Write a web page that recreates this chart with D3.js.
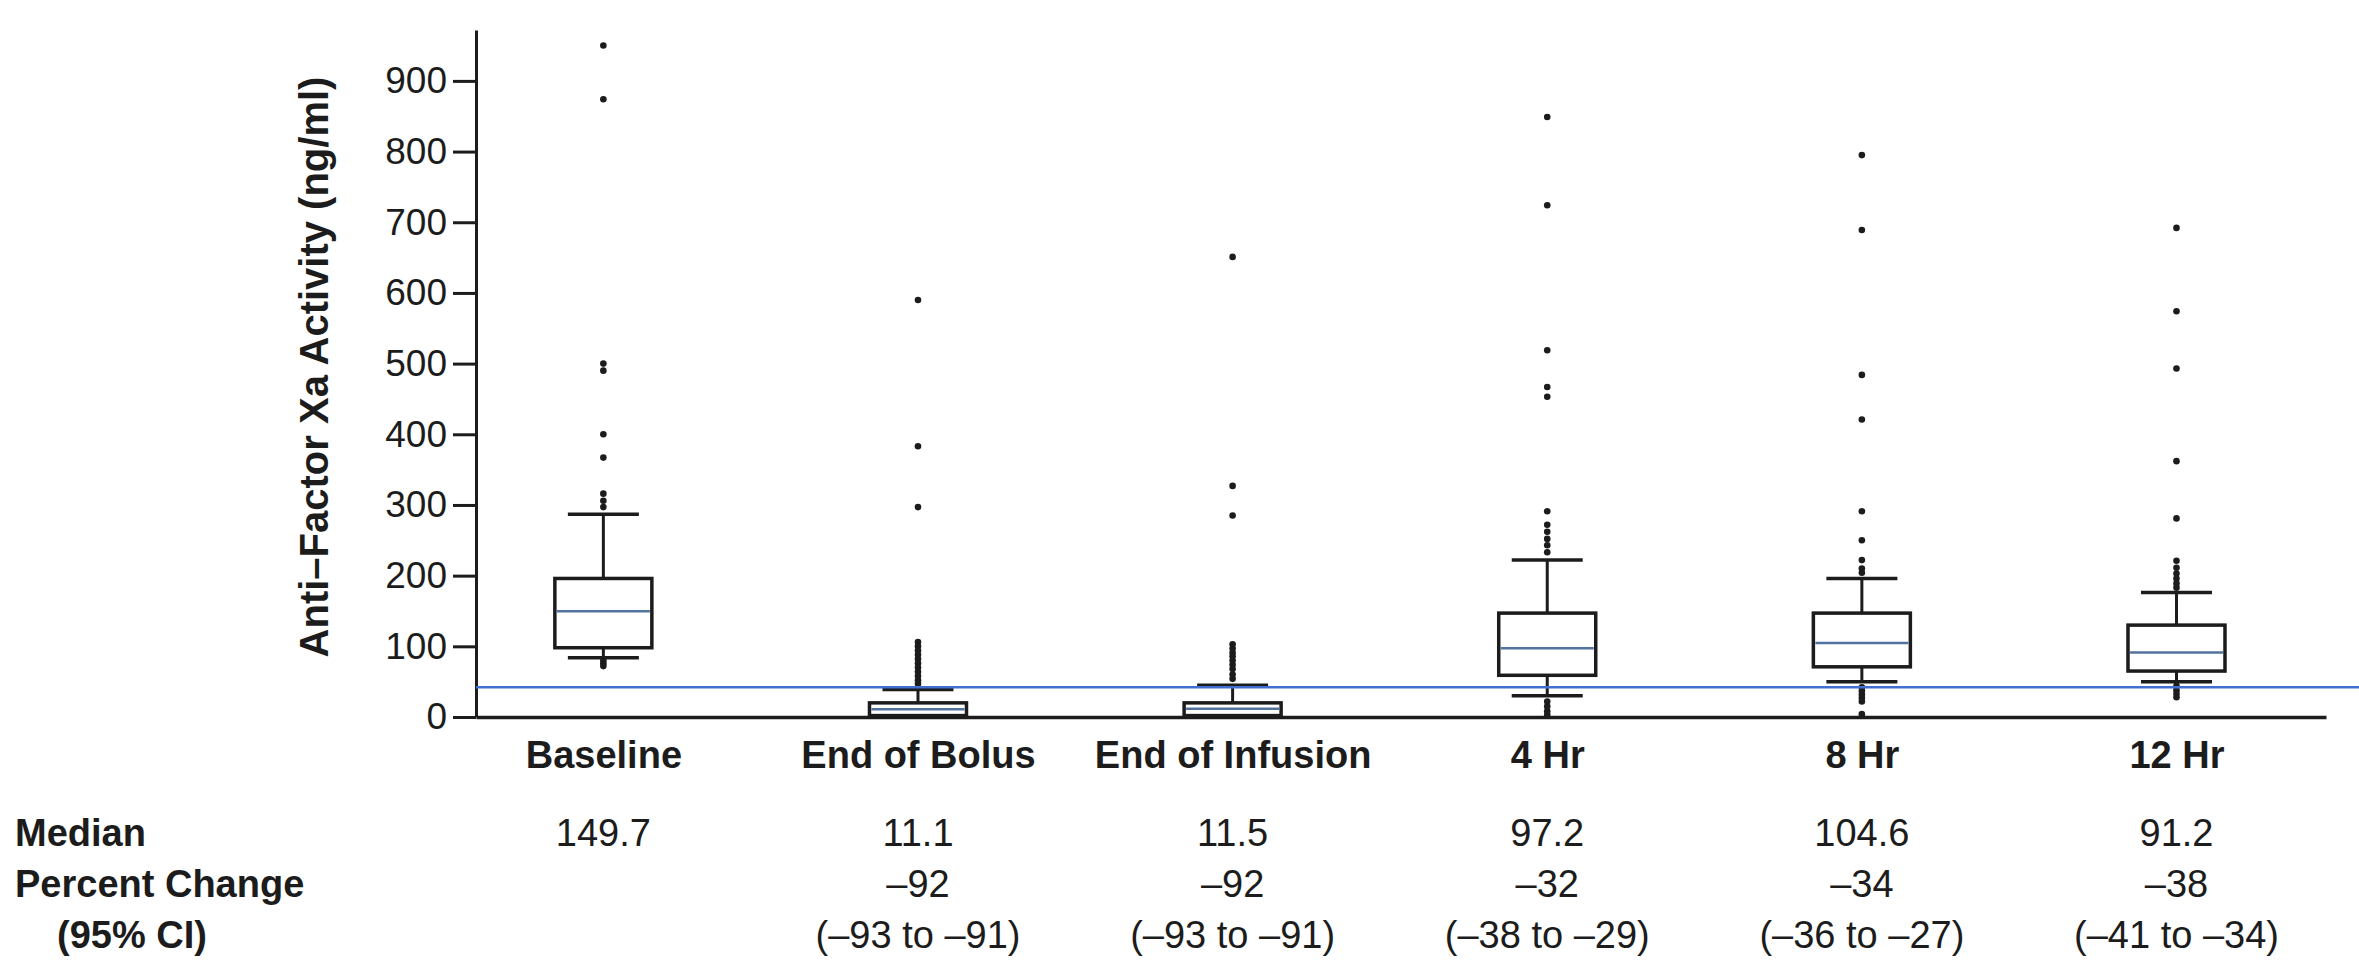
<!DOCTYPE html>
<html lang="en">
<head>
<meta charset="UTF-8">
<title>Anti-Factor Xa Activity</title>
<script src="https://d3js.org/d3.v7.min.js"></script>
<style>
  body { margin: 0; background: #fff; }
  svg { display: block; font-family: "Liberation Sans", Arial, sans-serif; }
</style>
</head>
<body>
<div id="chart"></div>

<script>
// Data
const categories = ["Baseline", "End of Bolus", "End of Infusion", "4 Hr", "8 Hr", "12 Hr"];
const q1 = [98, 2, 2, 59, 71, 65];
const medians = [149.7, 11.1, 11.5, 97.2, 104.6, 91.2];
const q3 = [196, 20, 20, 147, 147, 130];
const whiskerLow = [84, 0, 0, 30, 50, 50];
const whiskerHigh = [287, 39, 45, 222, 196, 176];
const outliers = [
  [950, 874, 500, 490, 400, 367, 316, 306, 297, 80, 76, 72],
  [590, 383, 297, 106, 100, 94, 88, 82, 76, 70, 64, 58, 52, 47],
  [651, 327, 285, 103, 97, 91, 86, 80, 74, 68, 60, 54],
  [849, 724, 519, 467, 453, 291, 272, 262, 252, 243, 233, 22, 15, 8, 3],
  [795, 689, 484, 421, 291, 250, 222, 210, 204, 42, 37, 32, 27, 22, 4],
  [692, 574, 493, 362, 281, 221, 211, 203, 196, 189, 183, 44, 38, 33, 28]
];
const referenceLevel = 42;
const yTicks = [0, 100, 200, 300, 400, 500, 600, 700, 800, 900];

// Table under the chart
const rowLabels = ["Median", "Percent Change", "(95% CI)"];
const medianText = ["149.7", "11.1", "11.5", "97.2", "104.6", "91.2"];
const pctText = ["", "\u201392", "\u201392", "\u201332", "\u201334", "\u201338"];
const ciText = ["", "(\u201393 to \u201391)", "(\u201393 to \u201391)", "(\u201338 to \u201329)", "(\u201336 to \u201327)", "(\u201341 to \u201334)"];

const W = 2359, H = 961;
const plotLeft = 476, plotRight = 2326, plotTop = 30, plotBottom = 717;
const boxW = 97, capW = 71;
const ink = "#1c1c1c";

const svg = d3.select("#chart").append("svg")
  .attr("width", W)
  .attr("height", H);

const x = d3.scalePoint()
  .domain(categories)
  .range([plotLeft, plotRight])
  .padding(0.44)
  .align(0.46);

const y = d3.scaleLinear()
  .domain([0, 972])
  .range([plotBottom, plotTop]);

// y axis
const yAxis = svg.append("g")
  .attr("transform", `translate(${plotLeft},0)`)
  .call(d3.axisLeft(y).tickValues(yTicks).tickSize(23).tickSizeOuter(0).tickPadding(6));
yAxis.selectAll("line, path").attr("stroke", ink).attr("stroke-width", 3);
yAxis.selectAll("text").attr("font-size", 37).attr("fill", ink);

// x axis
const xAxis = svg.append("g")
  .attr("transform", `translate(0,${plotBottom})`)
  .call(d3.axisBottom(x).tickSize(0).tickSizeOuter(0).tickPadding(24));
xAxis.select("path").attr("stroke", ink).attr("stroke-width", 3.5);
xAxis.selectAll("text").attr("font-size", 38).attr("font-weight", "bold").attr("fill", ink);

// y axis title
svg.append("text")
  .attr("transform", "translate(328,367) rotate(-90)")
  .attr("text-anchor", "middle")
  .attr("font-size", 40)
  .attr("font-weight", "bold")
  .attr("fill", ink)
  .text("Anti\u2013Factor Xa Activity (ng/ml)");

// boxes
const groups = svg.append("g").selectAll("g")
  .data(categories)
  .join("g")
  .attr("transform", d => `translate(${x(d)},0)`);

groups.append("line")
  .attr("y1", (d, i) => y(whiskerHigh[i]))
  .attr("y2", (d, i) => y(q3[i]))
  .attr("stroke", ink).attr("stroke-width", 3);

groups.append("line")
  .attr("y1", (d, i) => y(q1[i]))
  .attr("y2", (d, i) => y(whiskerLow[i]))
  .attr("stroke", ink).attr("stroke-width", 3);

groups.append("line")
  .attr("x1", -capW / 2).attr("x2", capW / 2)
  .attr("y1", (d, i) => y(whiskerHigh[i]))
  .attr("y2", (d, i) => y(whiskerHigh[i]))
  .attr("stroke", ink).attr("stroke-width", 3.5);

groups.filter((d, i) => whiskerLow[i] > 0).append("line")
  .attr("x1", -capW / 2).attr("x2", capW / 2)
  .attr("y1", d => y(whiskerLow[categories.indexOf(d)]))
  .attr("y2", d => y(whiskerLow[categories.indexOf(d)]))
  .attr("stroke", ink).attr("stroke-width", 3.5);

groups.append("rect")
  .attr("x", -boxW / 2)
  .attr("width", boxW)
  .attr("y", (d, i) => y(q3[i]))
  .attr("height", (d, i) => y(q1[i]) - y(q3[i]))
  .attr("fill", "#fff")
  .attr("stroke", ink)
  .attr("stroke-width", 3.5);

groups.append("line")
  .attr("x1", -boxW / 2 + 2).attr("x2", boxW / 2 - 2)
  .attr("y1", (d, i) => y(medians[i]))
  .attr("y2", (d, i) => y(medians[i]))
  .attr("stroke", "#52739f")
  .attr("stroke-width", 2.5);

// outliers
groups.selectAll("circle")
  .data((d, i) => outliers[i])
  .join("circle")
  .attr("cy", v => y(v))
  .attr("r", 3.3)
  .attr("fill", ink);

// reference line
svg.append("line")
  .attr("x1", plotLeft).attr("x2", W)
  .attr("y1", y(referenceLevel)).attr("y2", y(referenceLevel))
  .attr("stroke", "#3f6fd1")
  .attr("stroke-width", 2.5);

// table
const rowY = [846, 897, 948];
const rowX = [15, 15, 57];
svg.append("g").selectAll("text")
  .data(rowLabels)
  .join("text")
  .attr("x", (d, i) => rowX[i])
  .attr("y", (d, i) => rowY[i])
  .attr("font-size", 38)
  .attr("font-weight", "bold")
  .attr("fill", ink)
  .text(d => d);

[medianText, pctText, ciText].forEach((row, r) => {
  svg.append("g").selectAll("text")
    .data(row)
    .join("text")
    .attr("x", (d, i) => x(categories[i]))
    .attr("y", rowY[r])
    .attr("text-anchor", "middle")
    .attr("font-size", 38)
    .attr("fill", ink)
    .text(d => d);
});
</script>
</body>
</html>
